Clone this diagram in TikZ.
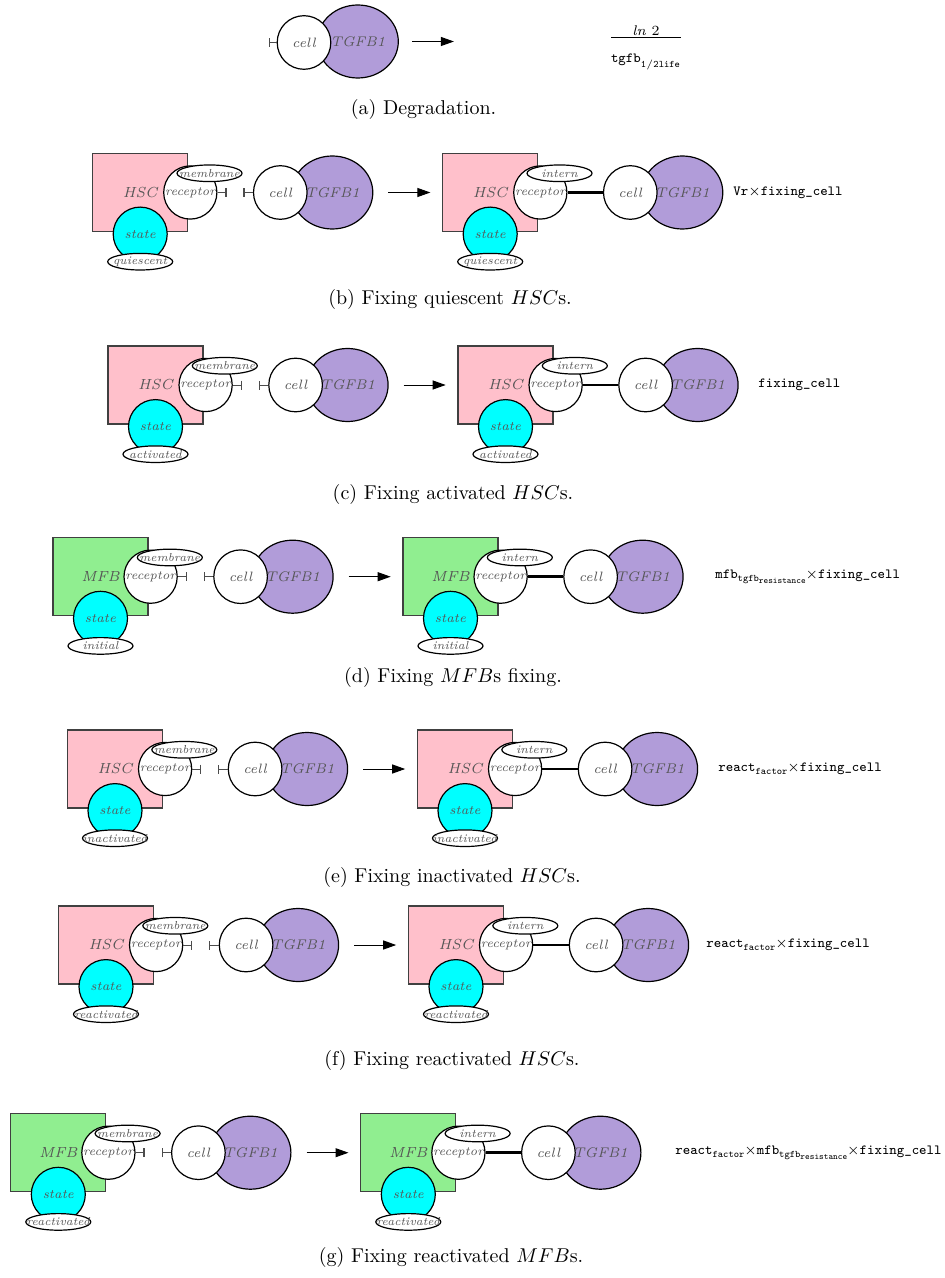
\documentclass[tikz,border=0pt]{standalone}
\usetikzlibrary{shapes.geometric,arrows.meta,calc}

\definecolor{hscpink}{RGB}{255,192,203}
\definecolor{mfbgreen}{RGB}{144,238,144}
\definecolor{statecyan}{RGB}{0,255,255}
\definecolor{tgfbpurple}{RGB}{177,156,217}
\definecolor{labelgray}{RGB}{85,85,85}

\newcommand{\mlab}[1]{\makebox[0pt]{#1}}
\newcommand{\subtt}[1]{\raisebox{-1.3pt}{\fontsize{5}{5}\selectfont\ttfamily #1}}
\newcommand{\subsubtt}[1]{\raisebox{-1pt}{\fontsize{4.4}{4}\selectfont\ttfamily #1}}

\tikzset{
  cellbox/.style={rectangle,draw=black!75,line width=0.6pt,minimum width=47.5pt,minimum height=39pt,
    inner sep=0pt,text=labelgray,font=\fontsize{7.3}{8}\selectfont\itshape},
  receptor/.style={circle,draw,line width=0.6pt,fill=white,minimum size=26.6pt,inner sep=0pt,
    text=labelgray,font=\fontsize{6.2}{7}\selectfont\itshape},
  statenode/.style={circle,draw,line width=0.6pt,fill=statecyan,minimum size=27pt,inner sep=0pt,
    text=labelgray,font=\fontsize{6.4}{7}\selectfont\itshape},
  site/.style={ellipse,draw,line width=0.6pt,fill=white,minimum width=32.5pt,minimum height=8.3pt,
    inner sep=0pt,text=labelgray,font=\fontsize{5.8}{6}\selectfont\itshape},
  ligcell/.style={circle,draw,line width=0.6pt,fill=white,minimum size=26.8pt,inner sep=0pt,
    text=labelgray,font=\fontsize{6.8}{7}\selectfont\itshape},
  tgfb/.style={ellipse,draw,line width=0.6pt,fill=tgfbpurple,minimum width=40.5pt,minimum height=36.5pt,
    inner sep=0pt,text=labelgray,font=\fontsize{7}{8}\selectfont\itshape},
  inhib/.style={draw=black!70,line width=0.5pt,-{Bar[width=4.5pt,line width=0.6pt]}},
  bound/.style={line width=1.4pt},
  react/.style={line width=0.5pt,-{Triangle[length=6.5pt,width=4.5pt]}},
  rate/.style={anchor=west,inner xsep=0pt,font=\scriptsize},
  caption/.style={font=\normalsize}
}

\begin{document}
\begin{tikzpicture}[x=0.5pt,y=-0.5pt]

\useasboundingbox (0,0) rectangle (944,1278);

% Degradation
\node[tgfb] (ta) at (357.8,41.5) {\mlab{TGFB1}};
\node[ligcell] (ca) at (304,42.5) {\mlab{cell}};
\coordinate (ba) at ($(ca.west)+(-8,0)$);
\draw[inhib] (ca.west) -- (ba);
\coordinate (asa) at ($(ta.east)+(13.4,0)$);
\coordinate (aea) at ($(asa)+(41.6,0)$);
\draw[react] (asa) -- (aea);
\node[anchor=base,font=\scriptsize] (ka) at (646,41.2)
  {$\frac{\textstyle\mathit{ln}\;2}{\textstyle\rule{0pt}{12pt}\mathtt{tgfb}_{\mathtt{1/2life}}}$};
\node[caption] (capa) at (423.5,110) {(a) Degradation.};

% The fixing rows
\foreach \rw/\yy/\xl/\kind/\col/\st/\frm/\fx/\capt/\cx/\cy in {
  b/192.5/140.2/HSC/hscpink/quiescent/{\texttt{Vr}$\times$\texttt{fixing\_cell}}/733/{(b) Fixing quiescent $HSC$s.}/450/300,
  c/385/155.5/HSC/hscpink/activated/{\texttt{fixing\_cell}}/758/{(c) Fixing activated $HSC$s.}/453/494.5,
  d/576.7/100.5/MFB/mfbgreen/initial/{\texttt{mfb}\subtt{tgfb\subsubtt{resistance}}$\times$\texttt{fixing\_cell}}/715/{(d) Fixing $MFB$s fixing.}/453/677,
  e/769/115/HSC/hscpink/inactivated/{\texttt{react}\subtt{factor}$\times$\texttt{fixing\_cell}}/718/{(e) Fixing inactivated $HSC$s.}/452/877,
  f/945/106/HSC/hscpink/reactivated/{\texttt{react}\subtt{factor}$\times$\texttt{fixing\_cell}}/706/{(f) Fixing reactivated $HSC$s.}/452/1060,
  g/1152.7/58.3/MFB/mfbgreen/reactivated/{\texttt{react}\subtt{factor}$\times$\texttt{mfb}\subtt{tgfb\subsubtt{resistance}}$\times$\texttt{fixing\_cell}}/675/{(g) Fixing reactivated $MFB$s.}/451/1257}
{
  % The free receptor
  \node[cellbox,fill=\col] (hl\rw) at (\xl,\yy) {\kind};
  \node[receptor] (rl\rw) at ($(hl\rw.east)+(2,0)$) {\mlab{receptor}};
  \node[statenode] (sl\rw) at ($(hl\rw.south)+(0,2)$) {\mlab{state}};
  \node[site] (ml\rw) at (rl\rw.north east) {\mlab{membrane}};
  \node[site] (ql\rw) at (sl\rw.south) {\mlab{\st}};
  \node[tgfb] (tl\rw) at ($(rl\rw)+(142,0)$) {\mlab{TGFB1}};
  \node[ligcell] (cl\rw) at ($(rl\rw)+(90,0)$) {\mlab{cell}};
  \coordinate (bl\rw) at ($(rl\rw.east)+(9,0)$);
  \coordinate (bc\rw) at ($(cl\rw.west)+(-9.5,0)$);
  \draw[inhib] (rl\rw.east) -- (bl\rw);
  \draw[inhib] (cl\rw.west) -- (bc\rw);

  % The arrow
  \coordinate (as\rw) at ($(tl\rw.east)+(15,0)$);
  \coordinate (ae\rw) at ($(as\rw)+(42,0)$);
  \draw[react] (as\rw) -- (ae\rw);

  % The fixed receptor
  \node[cellbox,fill=\col] (hr\rw) at ($(ae\rw)+(59.8,0)$) {\kind};
  \node[receptor] (rr\rw) at ($(hr\rw.east)+(2,0)$) {\mlab{receptor}};
  \node[statenode] (sr\rw) at ($(hr\rw.south)+(0,2)$) {\mlab{state}};
  \node[site] (ir\rw) at (rr\rw.north east) {\mlab{intern}};
  \node[site] (qr\rw) at (sr\rw.south) {\mlab{\st}};
  \node[tgfb] (tr\rw) at ($(rr\rw)+(142,0)$) {\mlab{TGFB1}};
  \node[ligcell] (cr\rw) at ($(rr\rw)+(90,0)$) {\mlab{cell}};
  \draw[bound] (rr\rw.east) -- (cr\rw.west);

  \node[rate] (k\rw) at (\fx,\yy) {\frm};
  \node[caption] (cap\rw) at (\cx,\cy) {\capt};
}

\end{tikzpicture}
\end{document}
